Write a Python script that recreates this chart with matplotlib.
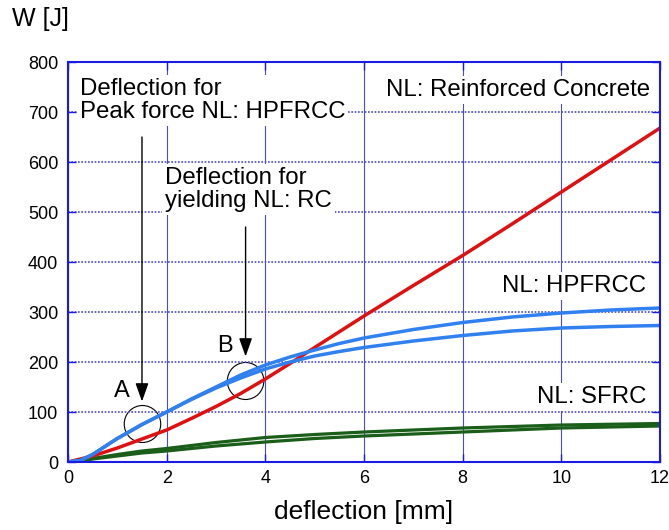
import numpy as np
import matplotlib.pyplot as plt
from matplotlib.patches import Ellipse

plt.rcParams['font.family'] = ['Liberation Sans', 'DejaVu Sans']

# curves: deflection [mm] -> W [J]
x_rc = [0, 0.5, 1, 1.5, 2, 2.5, 3, 3.5, 4, 4.5, 5, 6, 7, 8, 9, 10, 11, 12]
w_rc = [0, 12, 28, 46, 64, 87, 111, 137, 166, 197, 229, 292, 353, 413, 476, 540, 604, 668]

x_hp = [0, 0.25, 0.5, 0.75, 1, 1.5, 2, 2.5, 3, 3.5, 4, 4.5, 5, 5.5, 6, 7, 8, 9, 10, 11, 12]
w_hp1 = [0, 3, 15, 31, 47, 75, 100, 126, 150, 174, 194, 210, 224, 237, 248, 265, 279, 290, 298, 304, 308]
w_hp2 = [0, 3, 15, 31, 47, 75, 100, 125, 148, 168, 186, 200, 212, 221, 229, 242, 253, 262, 268, 271, 273]

x_sf = [0, 0.25, 0.5, 1, 1.5, 2, 3, 4, 5, 6, 8, 10, 12]
w_sf1 = [0, 2, 7, 15, 22, 27, 39, 49, 55, 60, 68, 74, 77]
w_sf2 = [0, 2, 6, 12, 18, 22, 32, 40, 47, 52, 60, 68, 72]

fig = plt.figure(figsize=(6.69, 5.3), dpi=100)
ax = fig.add_axes([0.1016, 0.1283, 0.885, 0.7547])

grid_c = '#4a4ad8'
ax.set_xlim(0, 12)
ax.set_ylim(0, 800)
ax.set_xticks(np.arange(0, 13, 2))
ax.set_yticks(np.arange(0, 801, 100))
ax.xaxis.grid(True, color=grid_c, lw=0.8)
ax.yaxis.grid(True, color=grid_c, lw=1.2, ls=(0, (1, 1)))
for s in ax.spines.values():
    s.set_color('#1a1ae0')
    s.set_linewidth(1.5)
ax.tick_params(direction='in', color='#1a1ae0', length=6, width=1, labelsize=13,
               top=True, right=True)
ax.tick_params(axis='y', pad=7)
ax.tick_params(axis='x', pad=6)

ax.plot(x_sf, w_sf1, color='#1a5e1a', lw=2.3)
ax.plot(x_sf, w_sf2, color='#1a5e1a', lw=2.3)
ax.plot(x_rc, w_rc, color='#e01010', lw=2.5)
ax.plot(x_hp, w_hp1, color='#3080f0', lw=2.5)
ax.plot(x_hp, w_hp2, color='#3080f0', lw=2.5)

box = dict(facecolor='white', edgecolor='none', pad=2)
fs = 17.3
ax.text(0.24, 768, 'Deflection for\nPeak force NL: HPFRCC', fontsize=fs, va='top', ha='left',
        linespacing=1.05, bbox=box)
ax.text(11.8, 766, 'NL: Reinforced Concrete', fontsize=fs, va='top', ha='right', bbox=box)
ax.text(1.97, 590, 'Deflection for\nyielding NL: RC', fontsize=fs, va='top', ha='left',
        linespacing=1.05, bbox=box)
ax.text(11.72, 374, 'NL: HPFRCC', fontsize=fs, va='top', ha='right', bbox=box)
ax.text(11.72, 152, 'NL: SFRC', fontsize=fs, va='top', ha='right', bbox=box)

arr = dict(arrowstyle='-|>,head_length=0.7,head_width=0.25', color='black', lw=1,
           mutation_scale=16, shrinkA=0, shrinkB=0)
ax.annotate('', xy=(1.5, 121), xytext=(1.5, 650), arrowprops=arr)
ax.annotate('', xy=(3.6, 211), xytext=(3.6, 470), arrowprops=arr)

ax.add_patch(Ellipse((1.51, 76), 0.74, 74, fill=False, color='black', lw=0.8))
ax.add_patch(Ellipse((3.6, 162), 0.74, 74, fill=False, color='black', lw=0.8))
ax.text(1.1, 143, 'A', fontsize=17, ha='center', va='center')
ax.text(3.18, 232, 'B', fontsize=17, ha='center', va='center')

ax.set_xlabel('deflection [mm]', fontsize=19, labelpad=9)
fig.text(0.018, 0.964, 'W [J]', fontsize=18, va='center', ha='left')

fig.savefig('out.png', dpi=100)
